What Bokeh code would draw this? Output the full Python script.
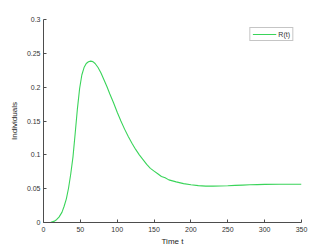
from bokeh.plotting import figure
from bokeh.embed import file_html
from bokeh.resources import INLINE
from bokeh.models import FixedTicker, NumeralTickFormatter, Legend, LegendItem, Range1d

# Data
t_vals = [0, 5, 10, 15, 18, 21, 25, 28, 31, 34, 37, 40, 43, 46, 49, 52, 55, 58, 61,
          64, 67, 70, 74, 78, 82, 86, 90, 95, 100, 105, 110, 115, 120, 125, 130,
          135, 140, 145, 150, 155, 160, 165, 170, 175, 180, 190, 200, 210, 220,
          230, 240, 250, 260, 270, 280, 290, 300, 320, 340, 350]
r_vals = [0.0, 0.0, 0.0004, 0.002, 0.0045, 0.008, 0.015, 0.024, 0.035, 0.051, 0.072,
          0.097, 0.132, 0.168, 0.198, 0.218, 0.229, 0.235, 0.2375,
          0.2385, 0.2378, 0.235, 0.229, 0.221, 0.211, 0.201, 0.190, 0.177, 0.163,
          0.150, 0.138, 0.127, 0.117, 0.108, 0.100,
          0.093, 0.086, 0.080, 0.076, 0.072, 0.068, 0.066, 0.063, 0.0615, 0.060,
          0.0575, 0.0557, 0.0545, 0.0538,
          0.0537, 0.0539, 0.0543, 0.0548, 0.0553, 0.0557, 0.0560, 0.0563, 0.0565,
          0.0566, 0.0566]
x_ticks = [0, 50, 100, 150, 200, 250, 300, 350]
y_ticks = [0, 0.05, 0.1, 0.15, 0.2, 0.25, 0.3]
series_name = "R(t)"
x_label = "Time t"
y_label = "Individuals"

FONT = "Liberation Sans"
AX = "#4d4d4d"

p = figure(width=332, height=249, output_backend="svg", toolbar_location=None,
           x_range=Range1d(0, 350), y_range=Range1d(0, 0.3),
           min_border_left=43, min_border_right=31, min_border_top=19,
           min_border_bottom=27)
p.outline_line_color = None
p.xgrid.visible = False
p.ygrid.visible = False
p.background_fill_color = "white"
p.border_fill_color = "white"

r = p.line(t_vals, r_vals, line_color="#3ad45a", line_width=1.1)

for ax in (p.xaxis[0], p.yaxis[0]):
    ax.axis_line_color = AX
    ax.major_tick_line_color = AX
    ax.major_tick_in = 3
    ax.major_tick_out = 0
    ax.minor_tick_line_color = None
    ax.major_label_text_font = FONT
    ax.major_label_text_font_size = "7px"
    ax.major_label_text_color = "#333333"
    ax.axis_label_text_font = FONT
    ax.axis_label_text_font_size = "8px"
    ax.axis_label_text_font_style = "normal"
    ax.axis_label_text_color = "#222222"

p.xaxis[0].ticker = FixedTicker(ticks=x_ticks)
p.yaxis[0].ticker = FixedTicker(ticks=y_ticks)
p.yaxis[0].formatter = NumeralTickFormatter(format="0.[00]")
p.xaxis[0].axis_label = x_label
p.yaxis[0].axis_label = y_label
p.xaxis[0].major_label_standoff = 4
p.xaxis[0].axis_label_standoff = 2
p.yaxis[0].major_label_standoff = 3
p.yaxis[0].axis_label_standoff = 5

legend = Legend(items=[LegendItem(label=series_name, renderers=[r])],
                location="top_right", margin=8, padding=2, spacing=0,
                glyph_width=24, glyph_height=8, label_standoff=2,
                label_text_font=FONT, label_text_font_size="7px",
                label_text_color="#333333", label_height=8, label_width=10,
                border_line_color="#8c8c8c", border_line_width=1,
                background_fill_color="white")
p.add_layout(legend)

open("out.html", "w").write(file_html(p, INLINE))
